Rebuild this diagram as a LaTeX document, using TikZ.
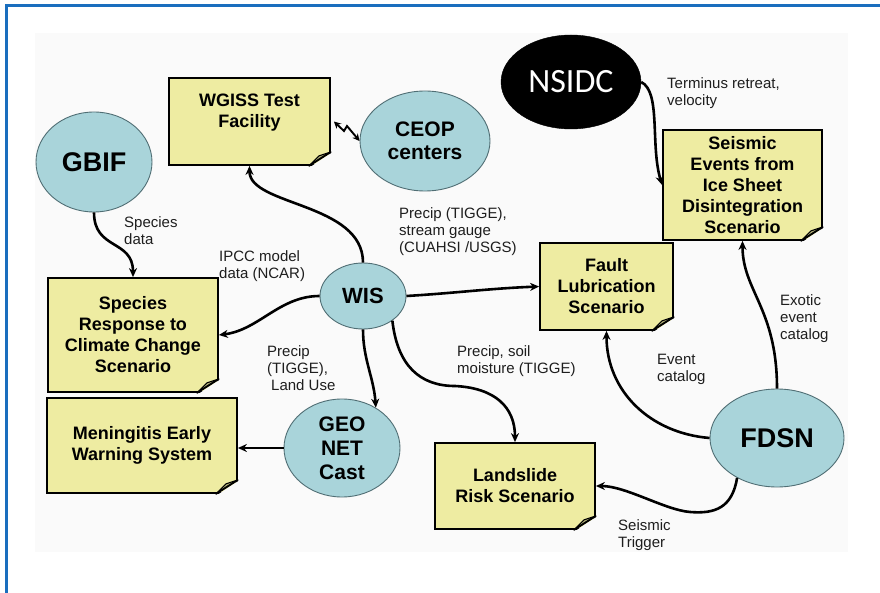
\documentclass[tikz,border=0pt]{standalone}
\usepackage{fontspec}
\setmainfont{Liberation Sans}
\newfontfamily\nsidcfont{Carlito}
\usetikzlibrary{arrows.meta, shapes.geometric, positioning}
\definecolor{notefill}{RGB}{238,236,162}
\definecolor{blobfill}{RGB}{169,212,218}
\definecolor{blobline}{RGB}{80,110,116}
\definecolor{frameblue}{RGB}{26,110,190}
\definecolor{panel}{RGB}{250,250,250}
\definecolor{labeltext}{RGB}{30,30,30}
\newcommand{\dogear}[1]{%
  \fill[panel] ([xshift=-22pt,yshift=-2pt]#1.south east) -- ([xshift=2pt,yshift=-2pt]#1.south east) -- ([xshift=2pt,yshift=14pt]#1.south east) -- cycle;
  \filldraw[fill=notefill!75!black, line width=1.1pt, line join=round] ([xshift=-22pt]#1.south east) -- ([xshift=-12pt,yshift=10pt]#1.south east) -- ([yshift=14pt]#1.south east) -- cycle;
  \draw[line width=1.8pt] ([xshift=-22pt]#1.south east) -- ([yshift=14pt]#1.south east);
}

\begin{document}
\begin{tikzpicture}[x=1pt,y=-1pt,
  note/.style={draw, line width=1.8pt, fill=notefill, align=center, inner sep=2pt, font=\bfseries\fontsize{18}{21}\selectfont},
  blob/.style={ellipse, draw=blobline, line width=0.9pt, fill=blobfill, align=center, inner sep=0pt},
  flow/.style={line width=2.6pt, -{Stealth[length=9pt,width=8pt]}},
  lbl/.style={anchor=north west, align=left, inner sep=0pt, text=labeltext, font=\fontsize{15}{17}\selectfont}]
\useasboundingbox (0,0) rectangle (880,593);
\fill[panel] (35,33) rectangle (848,552);
\draw[frameblue, line width=3pt] (6,593) -- (6,6) -- (880,6);

\node[note, minimum width=161, minimum height=87] (WGISS) at (249.5,121.5) {WGISS Test\\Facility\\\rule{0pt}{16pt}};
\node[note, minimum width=170, minimum height=114] (SRCC) at (133,335) {Species\\Response to\\Climate Change\\Scenario};
\node[note, minimum width=190, minimum height=95] (Menin) at (142,445.5) {Meningitis Early\\Warning System};
\node[note, minimum width=160, minimum height=86] (Land) at (515,486) {Landslide\\Risk Scenario};
\node[note, minimum width=133, minimum height=87] (Fault) at (606.5,286.5) {Fault\\Lubrication\\Scenario};
\node[note, minimum width=159, minimum height=110] (Seismic) at (742.5,185) {Seismic\\Events from\\Ice Sheet\\Disintegration\\Scenario};
\dogear{WGISS}
\dogear{SRCC}
\dogear{Menin}
\dogear{Land}
\dogear{Fault}
\dogear{Seismic}

\node[blob, minimum width=116, minimum height=100, font=\bfseries\fontsize{27}{30}\selectfont] (GBIF) at (94,162) {GBIF};
\node[blob, minimum width=130, minimum height=100, font=\bfseries\fontsize{21}{23}\selectfont] (CEOP) at (425,141) {CEOP\\centers};
\node[ellipse, fill=black, draw=black, text=white, minimum width=140, minimum height=94, inner sep=0pt, font=\nsidcfont\fontsize{34}{36}\selectfont] (NSIDC) at (571,82) {NSIDC};
\node[blob, minimum width=86, minimum height=66, font=\bfseries\fontsize{22}{24}\selectfont] (WIS) at (363,296) {WIS};
\node[blob, minimum width=116, minimum height=98, font=\bfseries\fontsize{21}{24}\selectfont] (GEO) at (342,448) {GEO\\NET\\Cast};
\node[blob, minimum width=134, minimum height=98, font=\bfseries\fontsize{27}{30}\selectfont] (FDSN) at (777,438) {FDSN};

\node[lbl] (lSpecies) at (124,216) {Species\\data};
\node[lbl] (lIPCC) at (219,250) {IPCC model\\data (NCAR)};
\node[lbl] (lTIGGE) at (399,207) {Precip (TIGGE),\\stream gauge\\(CUAHSI /USGS)};
\node[lbl] (lTerminus) at (667,77) {Terminus retreat,\\velocity};
\node[lbl] (lLandUse) at (267,345) {Precip\\(TIGGE),\\\hspace{4pt}Land Use};
\node[lbl] (lSoil) at (457,345) {Precip, soil\\moisture (TIGGE)};
\node[lbl] (lEvent) at (657,354) {Event\\catalog};
\node[lbl] (lExotic) at (780,294) {Exotic\\event\\catalog};
\node[lbl] (lTrigger) at (618,519) {Seismic\\Trigger};

\draw[flow] (GBIF.south) .. controls +(0,38) and +(0,-38) .. (SRCC.north);
\draw[flow] (WIS.north) .. controls +(0,-60) and +(0,40) .. (WGISS.south);
\draw[line width=1.9pt, {Stealth[length=7pt,width=7pt]}-{Stealth[length=7pt,width=7pt]}] ([xshift=3pt]WGISS.east) -- (344,131) -- (347,126) -- (CEOP.west);
\draw[flow] (NSIDC.east) .. controls +(20,10) and +(-12,-40) .. (Seismic.west);
\draw[flow] (WIS.west) .. controls +(-40,0) and +(40,-5) .. (SRCC.east);
\draw[flow] (WIS.east) .. controls +(50,-3) and +(-50,2) .. (Fault.west);
\draw[flow] (WIS.south) .. controls +(0,30) and +(-2,-30) .. (GEO.50);
\draw[flow] (WIS.-40) .. controls +(5,45) and +(-35,0) .. (455,386) .. controls +(40,2) and +(0,-35) .. (Land.north);
\draw[flow] (GEO.west) -- (GEO.west -| Menin.east);
\draw[flow] (FDSN.west) .. controls +(-60,-5) and +(0,60) .. (Fault.south);
\draw[flow] (FDSN.north) .. controls +(0,-80) and +(0,50) .. (Seismic.south);
\draw[flow] (FDSN.-135) .. controls +(-5,30) and +(25,2) .. (690,512) .. controls +(-25,-2) and +(30,0) .. (Land.east);
\end{tikzpicture}
\end{document}
